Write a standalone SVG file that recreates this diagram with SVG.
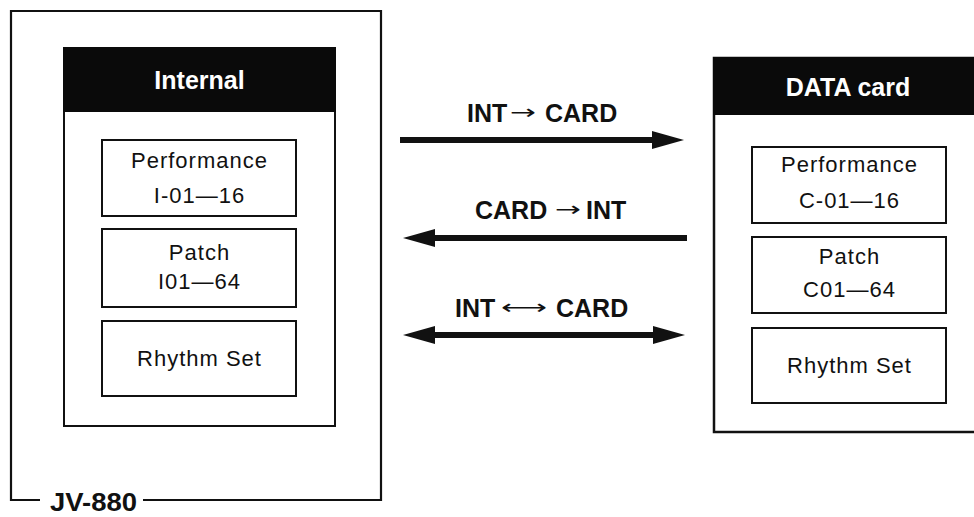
<svg xmlns="http://www.w3.org/2000/svg" width="974" height="517" viewBox="0 0 974 517">
<style>
text{font-family:"Liberation Sans",Arial,Helvetica,sans-serif;fill:#111}
.frame{fill:none;stroke:#111;stroke-width:2.2}
.box{fill:#fff;stroke:#111;stroke-width:2}
.hdr{fill:#0a0a0a}
.ht{font-size:25px;font-weight:bold;fill:#fff;text-anchor:middle}
.t{font-size:22px;letter-spacing:1px;text-anchor:middle}
.lab{font-size:25px;font-weight:bold}
.sa{font-size:20px;font-weight:normal;font-family:"DejaVu Sans",sans-serif}
.conn{stroke:#111;stroke-width:6;fill:none}
</style>
<defs>
<marker id="ah" markerUnits="userSpaceOnUse" markerWidth="32" markerHeight="18" refX="8" refY="9" orient="auto-start-reverse" viewBox="0 0 32 18">
<path d="M0,0 L32,9 L0,18 z" fill="#111"/>
</marker>
</defs>
<rect width="974" height="517" fill="#fff"/>

<g id="jv880">
<path class="frame" d="M40,500 H11 V11 H381 V500 H143"/>
<text x="50" y="511" style="font-size:25px;font-weight:bold" textLength="87" lengthAdjust="spacingAndGlyphs">JV-880</text>
</g>

<g id="internal">
<rect class="box" x="64" y="48" width="271" height="378"/>
<rect class="hdr" x="63" y="47" width="273" height="65"/>
<text class="ht" x="199.5" y="89">Internal</text>
</g>
<g id="int-performance">
<rect class="box" x="102" y="140" width="194" height="76"/>
<text class="t" x="199.5" y="168">Performance</text>
<text class="t" x="199.5" y="203">I-01—16</text>
</g>
<g id="int-patch">
<rect class="box" x="102" y="229" width="194" height="78"/>
<text class="t" x="199.5" y="260">Patch</text>
<text class="t" x="199.5" y="289">I01—64</text>
</g>
<g id="int-rhythm">
<rect class="box" x="102" y="321" width="194" height="75"/>
<text class="t" x="199.5" y="366">Rhythm Set</text>
</g>

<g id="datacard">
<rect class="box" x="714" y="58" width="280" height="374" style="stroke-width:2.5"/>
<rect class="hdr" x="713" y="57" width="262" height="58"/>
<text class="ht" x="848" y="96">DATA card</text>
</g>
<g id="card-performance">
<rect class="box" x="752" y="147" width="194" height="76"/>
<text class="t" x="849.5" y="172">Performance</text>
<text class="t" x="849.5" y="208">C-01—16</text>
</g>
<g id="card-patch">
<rect class="box" x="752" y="237" width="194" height="76"/>
<text class="t" x="849.5" y="264">Patch</text>
<text class="t" x="849.5" y="297">C01—64</text>
</g>
<g id="card-rhythm">
<rect class="box" x="752" y="328" width="194" height="75"/>
<text class="t" x="849.5" y="373">Rhythm Set</text>
</g>

<g id="connectors">
<line class="conn" x1="400" y1="140" x2="660" y2="140" marker-end="url(#ah)"/>
<line class="conn" x1="687" y1="238" x2="427" y2="238" marker-end="url(#ah)"/>
<line class="conn" x1="427" y1="335" x2="661" y2="335" marker-start="url(#ah)" marker-end="url(#ah)"/>
<text class="lab" y="122"><tspan x="467">INT</tspan><tspan class="sa" x="510" dy="-3" textLength="26" lengthAdjust="spacingAndGlyphs">→</tspan><tspan x="545" dy="3">CARD</tspan></text>
<text class="lab" y="219"><tspan x="475">CARD</tspan><tspan class="sa" x="555" dy="-3" textLength="26" lengthAdjust="spacingAndGlyphs">→</tspan><tspan x="586" dy="3">INT</tspan></text>
<text class="lab" y="317"><tspan x="455">INT</tspan><tspan class="sa" x="501" dy="-3" textLength="46" lengthAdjust="spacingAndGlyphs">⟷</tspan><tspan x="556" dy="3">CARD</tspan></text>
</g>
</svg>
